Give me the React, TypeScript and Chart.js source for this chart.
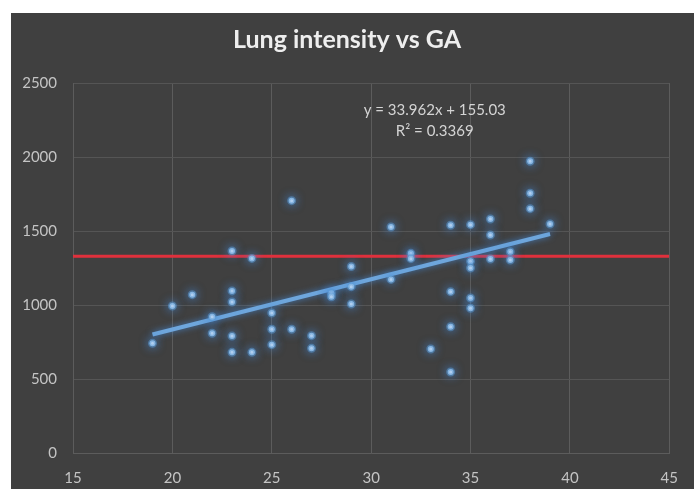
import React, { useEffect, useRef } from "react";
import { Chart, registerables } from "chart.js";

Chart.register(...registerables);

// ---- data ----
const TITLE = "Lung intensity vs GA";
const GA_WEEKS = [
  19, 20, 21, 22, 22, 23, 23, 23, 23, 23, 24, 24, 25, 25, 25, 26, 26, 27, 27,
  28, 28, 29, 29, 29, 31, 31, 32, 32, 33, 34, 34, 34, 34, 35, 35, 35, 35, 35,
  36, 36, 36, 37, 37, 38, 38, 38, 39,
];
const LUNG_INTENSITY = [
  741, 993, 1070, 921, 809, 1365, 1095, 1020, 790, 680, 1315, 680, 946, 836,
  732, 1705, 836, 793, 707, 1080, 1056, 1260, 1124, 1007, 1527, 1173, 1349,
  1313, 703, 1539, 1090, 853, 547, 1543, 1295, 1250, 1047, 978, 1581, 1473,
  1311, 1360, 1304, 1971, 1755, 1651, 1547,
];
const X_TICKS = [15, 20, 25, 30, 35, 40, 45];
const Y_TICKS = [0, 500, 1000, 1500, 2000, 2500];
const TREND_SLOPE = 33.962;
const TREND_INTERCEPT = 155.03;
const TREND_FROM = 19;
const TREND_TO = 39;
const THRESHOLD = 1330;
const EQUATION_LABEL = "y = 33.962x + 155.03";
const R2_LABEL = "R\u00B2 = 0.3369";
const LABEL_AT_X = 33.2;
const LABEL_AT_Y = [2318, 2176];

const BG = "#404040";

const decor = {
  id: "decor",
  beforeDraw(chart: any) {
    const { ctx, width, height } = chart;
    ctx.save();
    ctx.fillStyle = BG;
    ctx.fillRect(0, 0, width, height);
    ctx.fillStyle = "#eeeeee";
    ctx.font = "bold 25px Lato";
    ctx.textAlign = "center";
    ctx.textBaseline = "middle";
    ctx.fillText(TITLE, 336, 27);
    ctx.restore();
  },
  beforeDatasetDraw(chart: any, args: any) {
    const ds: any = chart.data.datasets[args.index];
    if (ds.glowColor) {
      chart.ctx.save();
      chart.ctx.shadowColor = ds.glowColor;
      chart.ctx.shadowBlur = ds.glowBlur;
    }
  },
  afterDatasetDraw(chart: any, args: any) {
    const ds: any = chart.data.datasets[args.index];
    if (ds.glowColor) chart.ctx.restore();
  },
  afterDatasetsDraw(chart: any) {
    const { ctx, scales } = chart;
    const x = scales.x.getPixelForValue(LABEL_AT_X);
    ctx.save();
    ctx.fillStyle = "#d4d4d4";
    ctx.font = "15px Lato";
    ctx.textAlign = "center";
    ctx.textBaseline = "middle";
    ctx.fillText(EQUATION_LABEL, x, scales.y.getPixelForValue(LABEL_AT_Y[0]));
    ctx.fillText(R2_LABEL, x, scales.y.getPixelForValue(LABEL_AT_Y[1]));
    ctx.restore();
  },
};

export default function App() {
  const ref = useRef<HTMLCanvasElement | null>(null);
  useEffect(() => {
    if (!ref.current) return;
    const points = GA_WEEKS.map((g, i) => ({ x: g, y: LUNG_INTENSITY[i] }));
    const trend = [TREND_FROM, TREND_TO].map((g) => ({
      x: g,
      y: TREND_SLOPE * g + TREND_INTERCEPT,
    }));
    const threshold = [X_TICKS[0], X_TICKS[X_TICKS.length - 1]].map((g) => ({
      x: g,
      y: THRESHOLD,
    }));
    const chart = new Chart(ref.current, {
      type: "scatter",
      data: {
        datasets: [
          {
            label: "Lung intensity",
            data: points,
            order: 0,
            pointRadius: 3,
            pointBackgroundColor: "#c4dcf4",
            pointBorderColor: "rgba(91,155,213,0.5)",
            pointBorderWidth: 3,
            glowColor: "rgba(70,140,220,1)",
            glowBlur: 10,
          } as any,
          {
            label: "Trend",
            type: "line",
            data: trend,
            order: 1,
            borderColor: "#6ea6dc",
            borderWidth: 4,
            pointRadius: 0,
            glowColor: "rgba(70,140,220,0.8)",
            glowBlur: 6,
          } as any,
          {
            label: "Threshold",
            type: "line",
            data: threshold,
            order: 2,
            borderColor: "#e0303c",
            borderWidth: 3,
            pointRadius: 0,
          } as any,
        ],
      },
      options: {
        animation: false,
        responsive: true,
        maintainAspectRatio: false,
        layout: { padding: { top: 70, right: 16, left: 0, bottom: 0 } },
        plugins: {
          legend: { display: false },
          title: { display: false },
          tooltip: { enabled: false },
        },
        scales: {
          x: {
            type: "linear",
            min: X_TICKS[0],
            max: X_TICKS[X_TICKS.length - 1],
            afterBuildTicks: (s: any) => {
              s.ticks = X_TICKS.map((v) => ({ value: v }));
            },
            afterFit: (s: any) => {
              s.height = 36;
            },
            grid: { color: "#5c5c5c", drawTicks: false, lineWidth: 1 },
            border: { color: "#5c5c5c" },
            ticks: {
              color: "#c4c4c4",
              font: { family: "Lato", size: 15 },
              padding: 16,
              callback: (v: any) => String(v),
            },
          },
          y: {
            type: "linear",
            min: Y_TICKS[0],
            max: Y_TICKS[Y_TICKS.length - 1],
            afterBuildTicks: (s: any) => {
              s.ticks = Y_TICKS.map((v) => ({ value: v }));
            },
            afterFit: (s: any) => {
              s.width = 62;
            },
            grid: { color: "#555555", drawTicks: false, lineWidth: 1 },
            border: { color: "#5c5c5c" },
            ticks: {
              color: "#c4c4c4",
              font: { family: "Lato", size: 15 },
              padding: 16,
              callback: (v: any) => String(v),
            },
          },
        },
      },
      plugins: [decor],
    });
    return () => chart.destroy();
  }, []);
  return (
    <div
      style={{
        position: "absolute",
        left: 11,
        top: 13,
        width: 683,
        height: 476,
        background: BG,
      }}
    >
      <canvas ref={ref} />
    </div>
  );
}
